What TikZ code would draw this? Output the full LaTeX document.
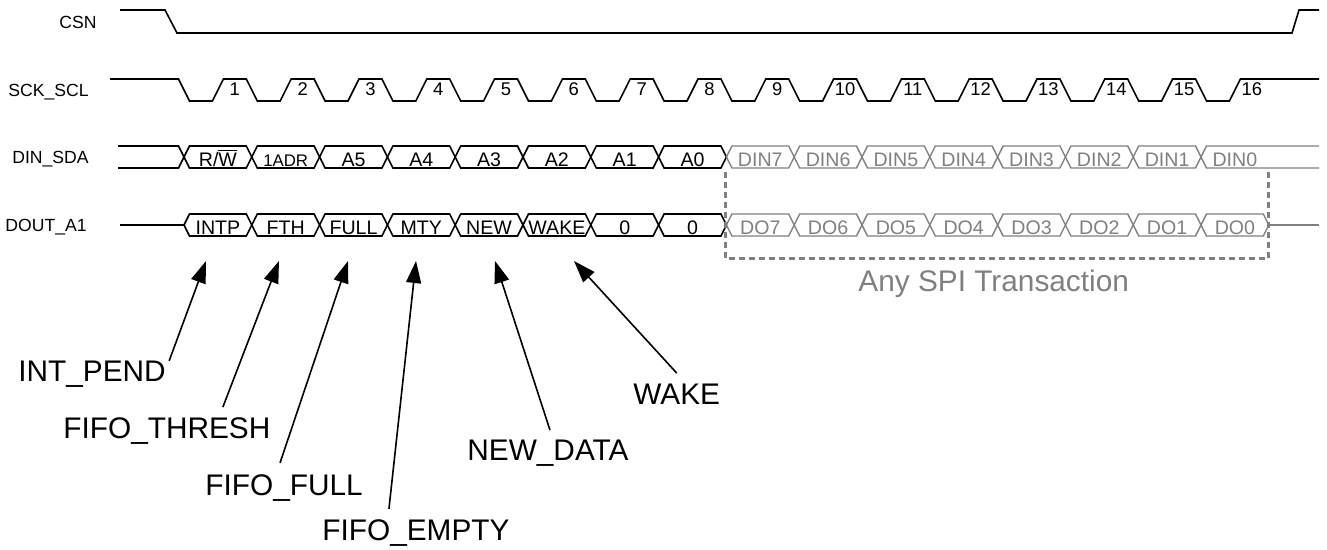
\documentclass[tikz,border=0pt]{standalone}
\usepackage{fontspec}
\setmainfont{Liberation Sans}
\usetikzlibrary{arrows.meta, calc, positioning}
\definecolor{spigray}{RGB}{128,128,128}
\tikzset{
  wave/.style={line width=0.8pt, line join=miter},
  busgray/.style={line width=0.7pt, draw=spigray},
  signame/.style={anchor=base east, inner sep=0pt, font=\fontsize{8.8}{10}\selectfont},
  celltext/.style={anchor=base, inner sep=0pt, font=\fontsize{9.8}{11}\selectfont},
  clknum/.style={anchor=base, inner sep=0pt, font=\fontsize{9.2}{10}\selectfont},
  flag/.style={anchor=base west, inner sep=0pt, font=\fontsize{14.9}{17}\selectfont},
  pointer/.style={-{Triangle[length=11pt, width=7.5pt]}, line width=0.8pt},
  dashbox/.style={draw=spigray, line width=1.5pt, dash pattern=on 3pt off 2pt},
}

\begin{document}
\begin{tikzpicture}[x=0.5pt, y=-0.5pt]
  \useasboundingbox (0,0) rectangle (1327,550);
  % signal names
  \node[signame] (lblcsn) at (97,29) {CSN};
  \node[signame] (lblsck) at (89,96.5) {SCK\_SCL};
  \node[signame] (lblsda) at (89,164) {DIN\_SDA};
  \node[signame] (lbldout) at (87,231.5) {DOUT\_A1};
  % CSN and clock
  \draw[wave] (120,10) -- (165,10) -- (177,33) -- (1292,33) -- (1299,10) -- (1319,10);
  \draw[wave] (110,79) -- (178.5,79) -- (189.5,101)
    \foreach \k in {0,...,14}{ -- ({184+67.8*\k+28.4},101) -- ({184+67.8*\k+39.4},79)
      -- ({184+67.8*(\k+1)-5.5},79) -- ({184+67.8*(\k+1)+5.5},101) }
    -- (1229.4,101) -- (1240.4,79) -- (1319,79);
  \foreach \n in {1,...,16}
    \node[clknum] (clk\n) at ({184+67.8*(\n-1)+50.85},96) {\n};
  % DIN_SDA bus
  \draw[wave] (118,146) -- (178.5,146) -- (184,157) -- (178.5,168) -- (118,168);
  \foreach \k [evaluate=\k as \a using 184+67.8*\k, evaluate=\k as \b using 184+67.8*(\k+1)] in {0,...,7}
    \draw[wave] (\a,157) -- (\a+5.5,146) -- (\b-5.5,146) -- (\b,157) -- (\b-5.5,168) -- (\a+5.5,168) -- cycle;
  \foreach \k [evaluate=\k as \a using 184+67.8*\k, evaluate=\k as \b using 184+67.8*(\k+1)] in {8,...,14}
    \draw[busgray] (\a,157) -- (\a+5.5,146) -- (\b-5.5,146) -- (\b,157) -- (\b-5.5,168) -- (\a+5.5,168) -- cycle;
  \draw[busgray] (1319,146) -- (1206.5,146) -- (1201,157) -- (1206.5,168) -- (1319,168);
  % DOUT_A1 bus
  \draw[wave] (120,225) -- (184,225);
  \foreach \k [evaluate=\k as \a using 184+67.8*\k, evaluate=\k as \b using 184+67.8*(\k+1)] in {0,...,7}
    \draw[wave] (\a,225) -- (\a+5.5,214) -- (\b-5.5,214) -- (\b,225) -- (\b-5.5,236) -- (\a+5.5,236) -- cycle;
  \foreach \k [evaluate=\k as \a using 184+67.8*\k, evaluate=\k as \b using 184+67.8*(\k+1)] in {8,...,15}
    \draw[busgray] (\a,225) -- (\a+5.5,214) -- (\b-5.5,214) -- (\b,225) -- (\b-5.5,236) -- (\a+5.5,236) -- cycle;
  \draw[busgray] (1268.8,225) -- (1319,225);
  % cell texts
  \node[celltext] (din0) at (217.9,166.5) {R/$\overline{\mbox{W}}$};
  \node[celltext, font=\fontsize{8.4}{10}\selectfont] (din1) at (285.7,166.5) {1ADR};
  \foreach \k/\t in {2/A5, 3/A4, 4/A3, 5/A2, 6/A1, 7/A0}
    \node[celltext] (din\k) at ({217.9+67.8*\k},166.5) {\t};
  \foreach \k/\t in {8/DIN7, 9/DIN6, 10/DIN5, 11/DIN4, 12/DIN3, 13/DIN2, 14/DIN1, 15/DIN0}
    \node[celltext, text=spigray] (din\k) at ({217.9+67.8*\k},166.5) {\t};
  \foreach \k/\t in {0/INTP, 1/FTH, 2/FULL, 3/MTY, 4/NEW, 5/WAKE, 6/0, 7/0}
    \node[celltext] (do\k) at ({217.9+67.8*\k},234.5) {\t};
  \foreach \k/\t in {8/DO7, 9/DO6, 10/DO5, 11/DO4, 12/DO3, 13/DO2, 14/DO1, 15/DO0}
    \node[celltext, text=spigray] (do\k) at ({217.9+67.8*\k},234.5) {\t};
  % any transaction box
  \draw[dashbox] (725.5,172) -- (725.5,259) -- (1268,259) -- (1268,172);
  \node[flag, text=spigray] (anyspi) at (858,292) {Any SPI Transaction};
  % status flags
  \node[flag] (intpend) at (18,381.7) {INT\_PEND};
  \node[flag] (fifothresh) at (63,438.3) {FIFO\_THRESH};
  \node[flag] (fifofull) at (205,495) {FIFO\_FULL};
  \node[flag] (fifoempty) at (322,540) {FIFO\_EMPTY};
  \node[flag] (newdata) at (467,460) {NEW\_DATA};
  \node[flag] (wake) at (633,404) {WAKE};
  \coordinate (tipintp) at (206,261);
  \coordinate (tipfth) at (279,261);
  \coordinate (tipfull) at (348,261);
  \coordinate (tipmty) at (416,261);
  \coordinate (tipnew) at (495,261);
  \coordinate (tipwake) at (574,261);
  \draw[pointer] ([xshift=1.5pt]intpend.north east) -- (tipintp);
  \draw[pointer] ([xshift=28pt, yshift=5pt]fifothresh.north) -- (tipfth);
  \draw[pointer] ([xshift=-2pt, yshift=5.5pt]fifofull.north) -- (tipfull);
  \draw[pointer] ([xshift=-13.5pt, yshift=5pt]fifoempty.north) -- (tipmty);
  \draw[pointer] ([xshift=1pt, yshift=4.5pt]newdata.north) -- (tipnew);
  \draw[pointer] ([yshift=5pt]wake.north) -- (tipwake);
\end{tikzpicture}
\end{document}
